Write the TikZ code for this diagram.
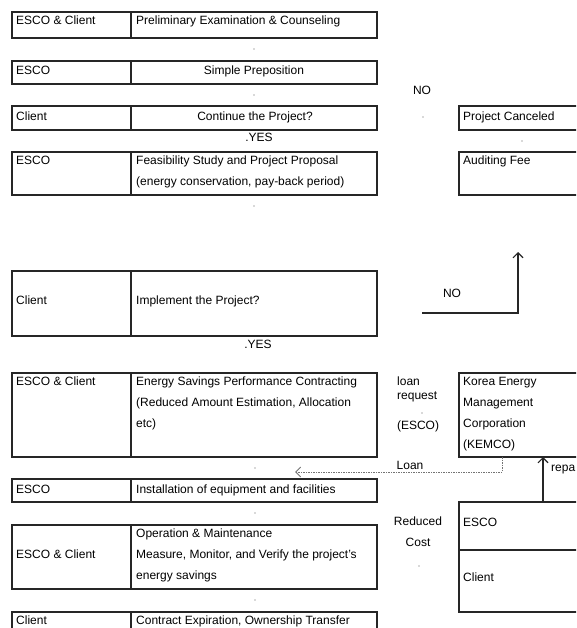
\documentclass[tikz,border=0pt]{standalone}
\usepackage{fontspec}
\setmainfont{Liberation Sans}
\usetikzlibrary{arrows.meta}
\newcommand\tabrow[3]{%
  \node[cell, minimum width=119pt, minimum height=#3pt] (#1a) at (12,#2) {};
  \node[cell, minimum width=246pt, minimum height=#3pt] (#1b) at (131,#2) {};}
\begin{document}
\begin{tikzpicture}[x=1pt,y=-1pt, font=\fontsize{12}{14}\selectfont,
  cell/.style={draw=black!85, line width=1.1pt, inner sep=0pt, outer sep=0pt, anchor=north west, rectangle},
  txt/.style={inner sep=0pt, anchor=west, text height=8.6pt, text depth=0pt},
  ctxt/.style={inner sep=0pt, text height=8.6pt, text depth=0pt},
  dotm/.style={circle, fill=black!30, inner sep=0pt, minimum size=1.8pt},
  conn/.style={draw=black!85, line width=1.1pt, -{Straight Barb[length=5pt,width=10pt]}},
  loanline/.style={draw=black!55, line width=0.9pt, dash pattern=on 1.5pt off 1pt, -{Straight Barb[length=5pt,width=10pt]}}]
\path[use as bounding box] (0,0) rectangle (576,628);
\clip (0,0) rectangle (576,628);
% left table
\tabrow{r1}{12}{26}
\tabrow{r2}{61}{23}
\tabrow{r3}{106}{24}
\tabrow{r4}{152}{43}
\tabrow{r5}{271}{65}
\tabrow{r6}{373}{84}
\tabrow{r7}{479}{23}
\tabrow{r8}{525}{64}
\tabrow{r9}{612}{30}
% texts
\node[txt] (t1a) at (16,20) {ESCO \& Client};
\node[txt] (t1b) at (136,20) {Preliminary Examination \& Counseling};
\node[dotm] (d1) at (254,49) {};
\node[txt] (t2a) at (16,70) {ESCO};
\node[ctxt] (t2b) at (254,70) {Simple Preposition};
\node[dotm] (d2) at (254,95) {};
\node[txt] (t3a) at (16,116) {Client};
\node[ctxt] (t3b) at (255,116) {Continue the Project?};
\node[ctxt] (yes1) at (259,137) {.YES};
\node[txt] (t4a) at (16,160) {ESCO};
\node[txt] (t4b) at (136,160) {Feasibility Study and Project Proposal};
\node[txt] (t4c) at (136,181) {(energy conservation, pay-back period)};
\node[dotm] (d3) at (254,206) {};
\node[txt] (t5a) at (16,300) {Client};
\node[txt] (t5b) at (136,300) {Implement the Project?};
\node[ctxt] (yes2) at (258,344) {.YES};
\node[txt] (t6a) at (16,381) {ESCO \& Client};
\node[txt] (t6b) at (136,381) {Energy Savings Performance Contracting};
\node[txt] (t6c) at (136,402) {(Reduced Amount Estimation, Allocation};
\node[txt] (t6d) at (136,423) {etc)};
\node[dotm] (d4) at (255,468) {};
\node[txt] (t7a) at (16,489) {ESCO};
\node[txt] (t7b) at (136,489) {Installation of equipment and facilities};
\node[dotm] (d5) at (255,513) {};
\node[txt] (t8b) at (136,533) {Operation \& Maintenance};
\node[txt] (t8a) at (16,554) {ESCO \& Client};
\node[txt] (t8c) at (136,554) {Measure, Monitor, and Verify the project's};
\node[txt] (t8d) at (136,575) {energy savings};
\node[dotm] (d6) at (255,600) {};
\node[txt] (t9a) at (16,620) {Client};
\node[txt] (t9b) at (136,620) {Contract Expiration, Ownership Transfer};
% right side
\node[ctxt] (no1) at (422,90) {NO};
\node[dotm] (d7) at (423,117) {};
\node[cell, minimum width=140pt, minimum height=24pt] (cancel) at (459,106) {};
\node[txt] at (463,116) {Project Canceled};
\node[dotm] (d8) at (522,141) {};
\node[cell, minimum width=140pt, minimum height=43pt] (audit) at (459,152) {};
\node[txt] at (463,160) {Auditing Fee};
\coordinate (nostart) at (422,313);
\coordinate (nobend) at (518,313);
\coordinate (noend) at (518,252);
\draw[conn] (nostart) -- (nobend) -- (noend);
\node[ctxt] (no2) at (452,293) {NO};
\node[txt] (lr1) at (397,381) {loan};
\node[txt] (lr2) at (397,395) {request};
\node[dotm] (d9) at (422,413) {};
\node[ctxt] (lr3) at (418,425) {(ESCO)};
\node[cell, minimum width=140pt, minimum height=84pt] (kemco) at (459,373) {};
\node[txt] at (463,381) {Korea Energy};
\node[txt] at (463,402) {Management};
\node[txt] at (463,423) {Corporation};
\node[txt] at (463,444) {(KEMCO)};
\node[ctxt] (loanlbl) at (410,465) {Loan};
\coordinate (loanx) at (502,457);
\coordinate (loanend) at (295,472);
\draw[loanline] (kemco.south -| loanx) |- (loanend);
\node[cell, minimum width=140pt, minimum height=110pt] (pay) at (459,502) {};
\draw[draw=black!85, line width=1.1pt] (459,550) -- (600,550);
\node[txt] at (463,522) {ESCO};
\node[txt] at (463,577) {Client};
\coordinate (repx) at (543,480);
\draw[conn] (pay.north -| repx) -- (kemco.south -| repx);
\node[txt] (repay) at (551,467) {repa};
\node[ctxt] (rc1) at (418,521) {Reduced};
\node[ctxt] (rc2) at (418,542) {Cost};
\node[dotm] (d10) at (419,566) {};
\end{tikzpicture}
\end{document}
